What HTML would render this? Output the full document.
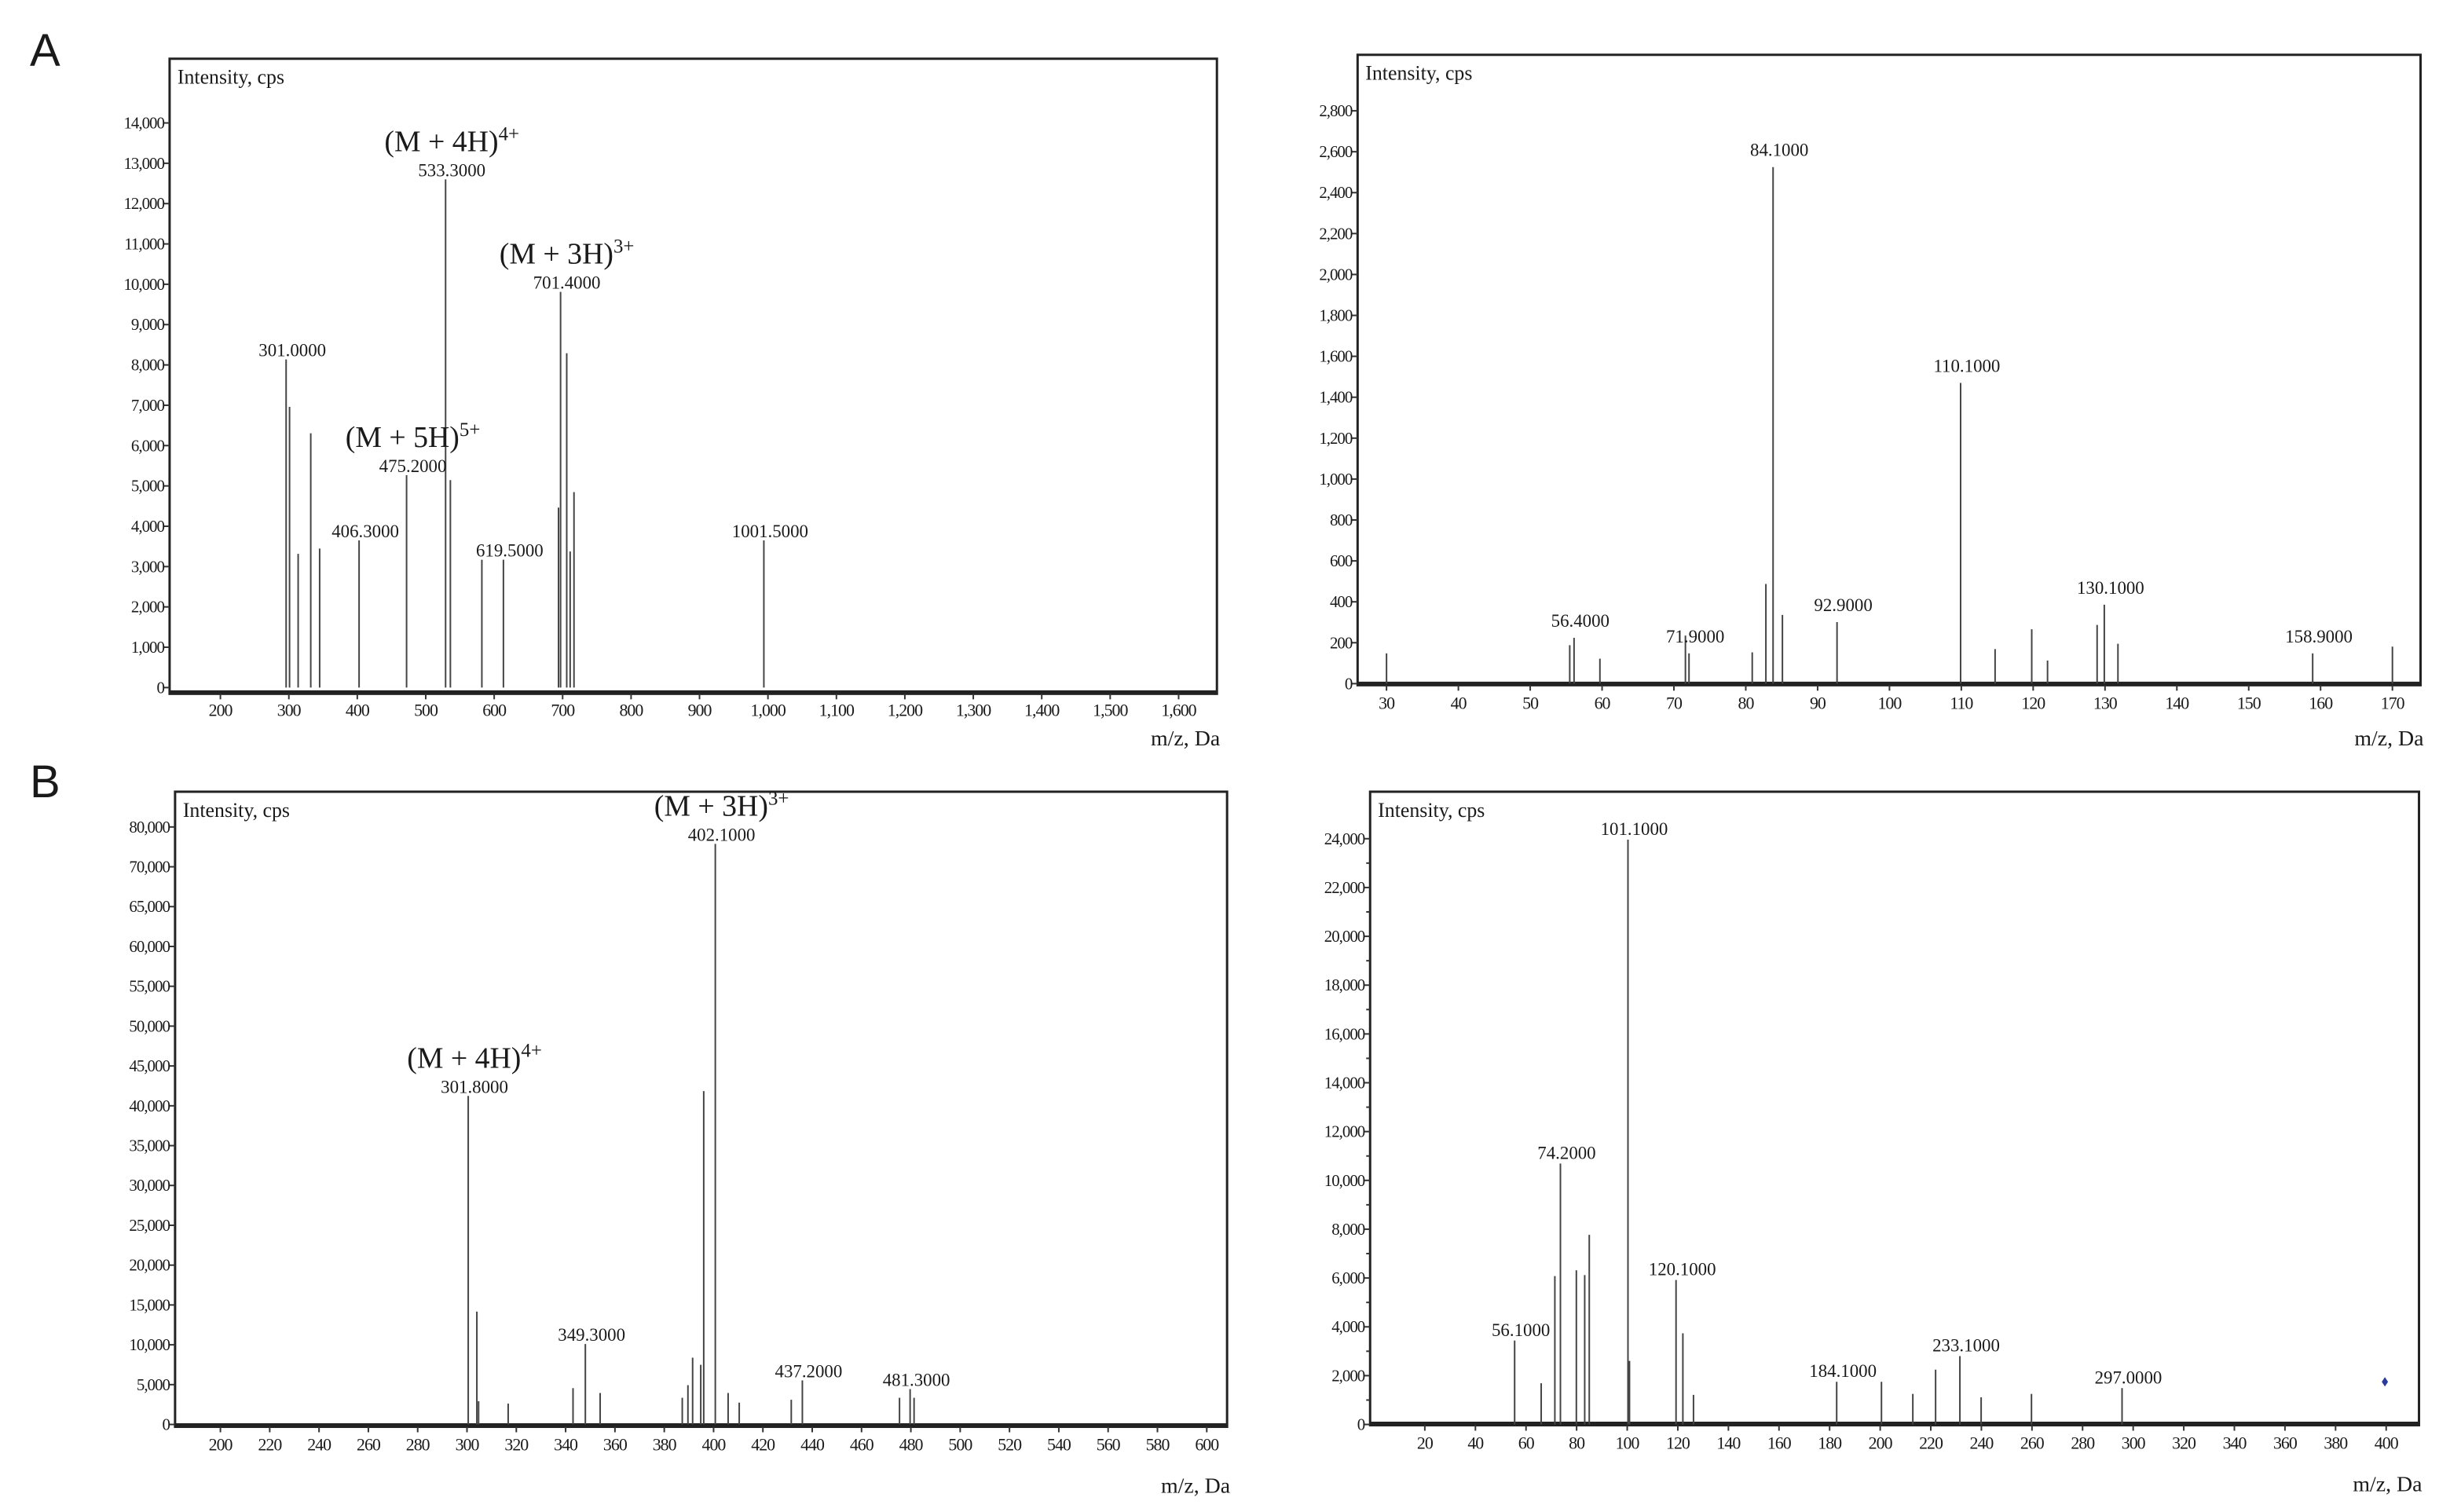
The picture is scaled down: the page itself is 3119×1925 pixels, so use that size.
<!DOCTYPE html>
<html><head><meta charset="utf-8"><style>
html,body{margin:0;padding:0;background:#fff;}
svg{display:block;}
text{font-family:"Liberation Serif",serif;fill:#1a1a1a;}
</style></head><body>
<svg id="fig" width="3119" height="1925" viewBox="0 0 3119 1925" xmlns="http://www.w3.org/2000/svg">
<text x="38" y="84" font-size="58" style="font-family:'Liberation Sans',sans-serif">A</text>
<text x="38" y="1015" font-size="58" style="font-family:'Liberation Sans',sans-serif">B</text>
<g id="root" transform="scale(0.995,0.997)"></g>
</svg>
<script>
// Panel A-left data
const aMz  = [296,301,313.6,332,345,402.6,472,529,536,582,613.5,694,697,706,711,716.6,994];
const aInt = [8137,6960,3315,6306,3446,3650,5265,12600,5145,3170,3170,4463,9812,8290,3374,4846,3650];
const aLabelIdx = [0,5,6,7,10,12,16];
const aLabelTxt = ["301.0000","406.3000","475.2000","533.3000","619.5000","701.4000","1001.5000"];
const aAnnIdx = [7,12,6];
const aAnnTxt = ["(M + 4H)","(M + 3H)","(M + 5H)"];
const aAnnSup = ["4+","3+","5+"];
const aYTicks = [0,1000,2000,3000,4000,5000,6000,7000,8000,9000,10000,11000,12000,13000,14000];
const aYLabels = ["0","1,000","2,000","3,000","4,000","5,000","6,000","7,000","8,000","9,000","10,000","11,000","12,000","13,000","14,000"];
const aXTicks = [200,300,400,500,600,700,800,900,1000,1100,1200,1300,1400,1500,1600];
const aXLabels = ["200","300","400","500","600","700","800","900","1,000","1,100","1,200","1,300","1,400","1,500","1,600"];

// Panel A-right data
const bMz  = [30,55.5,56.1,59.7,71.6,72.1,80.9,82.8,83.8,85.1,92.7,109.9,114.7,119.8,122,128.9,129.9,131.8,158.9,170];
const bInt = [148,188,224,122,235,148,153,487,2525,336,301,1470,169,266,113,287,386,195,148,181];
const bLabelIdx = [2,5,8,10,11,16,18];
const bLabelTxt = ["56.4000","71.9000","84.1000","92.9000","110.1000","130.1000","158.9000"];
const bYTicks = [0,200,400,600,800,1000,1200,1400,1600,1800,2000,2200,2400,2600,2800];
const bYLabels = ["0","200","400","600","800","1,000","1,200","1,400","1,600","1,800","2,000","2,200","2,400","2,600","2,800"];
const bXTicks = [30,40,50,60,70,80,90,100,110,120,130,140,150,160,170];
const bXLabels = ["30","40","50","60","70","80","90","100","110","120","130","140","150","160","170"];

// Panel B-left data
const cMz  = [300.5,304,304.7,316.7,343,348,354,387.3,389.6,391.5,394.8,396,400.7,405.9,410.4,431.5,436,475.4,479.7,481.3];
const cInt = [41240,14170,2920,2620,4560,10100,3950,3350,4930,8390,7480,41850,72870,3950,2740,3100,5535,3350,4440,3350];
const cLabelIdx = [0,5,12,16,18];
const cLabelTxt = ["301.8000","349.3000","402.1000","437.2000","481.3000"];
const cAnnIdx = [0,12];
const cAnnTxt = ["(M + 4H)","(M + 3H)"];
const cAnnSup = ["4+","3+"];
const cYTicks = [0,5000,10000,15000,20000,25000,30000,35000,40000,45000,50000,55000,60000,65000,70000,75000];
const cYLabels = ["0","5,000","10,000","15,000","20,000","25,000","30,000","35,000","40,000","45,000","50,000","55,000","60,000","65,000","70,000","80,000"];
const cXTicks = [200,220,240,260,280,300,320,340,360,380,400,420,440,460,480,500,520,540,560,580,600];
const cXLabels = ["200","220","240","260","280","300","320","340","360","380","400","420","440","460","480","500","520","540","560","580","600"];

// Panel B-right data
const dMz  = [55.5,66,71.4,73.6,79.9,83.2,85,100.3,100.9,119.3,122,126.2,182.8,200.5,212.9,221.9,231.5,239.9,259.8,295.6];
const dInt = [3437,1689,6080,10690,6318,6120,7768,23960,2603,5920,3735,1212,1748,1748,1252,2245,2800,1112,1252,1490];
const dLabelIdx = [0,3,7,9,12,16,19];
const dLabelTxt = ["56.1000","74.2000","101.1000","120.1000","184.1000","233.1000","297.0000"];
const dMarkerMz = [399.5];
const dMarkerInt = [1748];
const dYTicks = [0,2000,4000,6000,8000,10000,12000,14000,16000,18000,20000,22000,24000];
const dYLabels = ["0","2,000","4,000","6,000","8,000","10,000","12,000","14,000","16,000","18,000","20,000","22,000","24,000"];
const dXTicks = [20,40,60,80,100,120,140,160,180,200,220,240,260,280,300,320,340,360,380,400];
const dXLabels = ["20","40","60","80","100","120","140","160","180","200","220","240","260","280","300","320","340","360","380","400"];

const NS = "http://www.w3.org/2000/svg";
const root = document.getElementById('root');
function mk(tag, attrs, parent){
  const e = document.createElementNS(NS, tag);
  for (const k in attrs) e.setAttribute(k, attrs[k]);
  parent.appendChild(e);
  return e;
}

function panel(id, cfg, mz, inten, lIdx, lTxt, annIdx, annTxt, annSup, yT, yL, xT, xL){
  const g = mk('g', {transform:`translate(${cfg.shift||0},0)`}, root);
  
  
  const [x0,y0,x1,y1] = cfg.box;
  const xs = v => cfg.xr[0] + (v - cfg.xd[0])/(cfg.xd[1]-cfg.xd[0])*(cfg.xr[1]-cfg.xr[0]);
  const ys = v => cfg.yr[0] + (v - cfg.yd[0])/(cfg.yd[1]-cfg.yd[0])*(cfg.yr[1]-cfg.yr[0]);
  const frame = mk('rect', {x:x0,y:y0,width:x1-x0,height:y1-y0,fill:'none',stroke:'#222','stroke-width':3}, g);
  
  
  const xaxis = mk('line', {x1:x0,x2:x1,y1:y1-2,y2:y1-2,stroke:'#222','stroke-width':5}, g);
  
  
  const yt = mk('text', {x:x0+10,y:y0+32,'font-size':26}, g);
  yt.textContent = 'Intensity, cps';
  
  
  const xt = mk('text', {x:x1+4,y:y1+cfg.xtitleDy,'font-size':28,'text-anchor':'end'}, g);
  xt.textContent = 'm/z, Da';
  
  
  yT.forEach((v,i) => {
    const y = ys(v);
    const t = mk('line', {x1:x0-7,x2:x0,y1:y,y2:y,stroke:'#333','stroke-width':2}, g);
    
    
    const lb = mk('text', {x:x0-7,y:y+7,'font-size':21,'text-anchor':'end','letter-spacing':'-1'}, g);
    lb.textContent = yL[i];
    
    
    if (cfg.minor && i < yT.length-1) {
      const ym = ys((v + yT[i+1])/2);
      const m = mk('line', {x1:x0-5,x2:x0,y1:ym,y2:ym,stroke:'#333','stroke-width':2}, g);
      
      
    }
  });
  xT.forEach((v,i) => {
    const x = xs(v);
    const t = mk('line', {x1:x,x2:x,y1:y1,y2:y1+7,stroke:'#333','stroke-width':2}, g);
    
    
    const lb = mk('text', {x:x,y:y1+cfg.xlabDy,'font-size':22,'text-anchor':'middle','letter-spacing':'-1'}, g);
    lb.textContent = xL[i];
    
    
  });
  const base = ys(0);
  mz.forEach((m,i) => {
    const p = mk('line', {x1:xs(m),x2:xs(m),y1:base,y2:ys(inten[i]),stroke:'#444','stroke-width':2}, g);
    
    
  });
  lIdx.forEach((k,i) => {
    const lb = mk('text', {x:xs(mz[k])+8,y:ys(inten[k])-cfg.labDy,'font-size':23,'text-anchor':'middle'}, g);
    lb.textContent = lTxt[i];
    
    
  });
  annIdx.forEach((k,i) => {
    const a = mk('text', {x:xs(mz[k])+8,y:ys(inten[k])-36,'font-size':38,'text-anchor':'middle'}, g);
    
    
    const t1 = mk('tspan', {}, a); t1.textContent = annTxt[i];
    const t2 = mk('tspan', {dy:-14,'font-size':25}, a); t2.textContent = annSup[i];
  });
  return {xs, ys, g};
}

panel('spectrum-a-left', {box:[217,75,1557,886], xd:[200,1600], xr:[282,1508], yd:[0,14000], yr:[878,157], xlabDy:28, xtitleDy:66, labDy:4},
  aMz,aInt,aLabelIdx,aLabelTxt,aAnnIdx,aAnnTxt,aAnnSup,aYTicks,aYLabels,aXTicks,aXLabels);
panel('spectrum-a-right', {box:[1730,70,3090,875], xd:[30,170], xr:[1767,3054], yd:[0,2800], yr:[873,141.5], xlabDy:30, xtitleDy:77, labDy:14, shift:7},
  bMz,bInt,bLabelIdx,bLabelTxt,[],[],[],bYTicks,bYLabels,bXTicks,bXLabels);
panel('spectrum-b-left', {box:[224,1011,1570,1822], xd:[200,600], xr:[282,1544], yd:[0,75000], yr:[1819,1056], xlabDy:30, xtitleDy:84, labDy:4},
  cMz,cInt,cLabelIdx,cLabelTxt,cAnnIdx,cAnnTxt,cAnnSup,cYTicks,cYLabels,cXTicks,cXLabels);
const pd = panel('spectrum-b-right', {box:[1746,1011,3088,1820], xd:[20,400], xr:[1816,3046], yd:[0,24000], yr:[1819,1071], xlabDy:30, xtitleDy:84, minor:true, labDy:6, shift:7},
  dMz,dInt,dLabelIdx,dLabelTxt,[],[],[],dYTicks,dYLabels,dXTicks,dXLabels);
dMarkerMz.forEach((m,i) => {
  const x = pd.xs(m), y = pd.ys(dMarkerInt[i]);
  const mkEl = mk('polygon', {points:`${x},${y-6} ${x+4},${y} ${x},${y+6} ${x-4},${y}`, fill:'#2a3a9a'}, pd.g);
  
  
});
</script>
</body></html>
